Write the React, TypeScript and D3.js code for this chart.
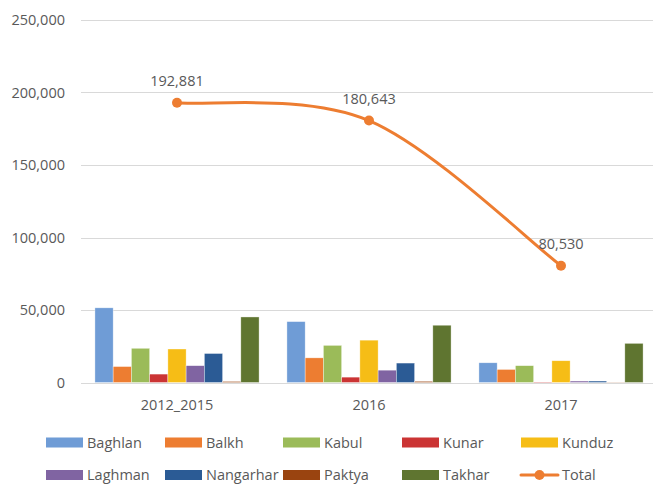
import React from "react";
import * as d3 from "d3";

const categories = ["2012_2015", "2016", "2017"];
const provinces = ["Baghlan", "Balkh", "Kabul", "Kunar", "Kunduz", "Laghman", "Nangarhar", "Paktya", "Takhar"];
const colors = ["#6F9CD6", "#ED7D31", "#9BBB59", "#CB3434", "#F6BD16", "#8064A2", "#2B5B95", "#9A4410", "#5F7530"];
const baghlan = [51500, 42000, 13600];
const balkh = [11000, 17000, 9000];
const kabul = [23600, 25600, 11600];
const kunar = [5800, 3700, 300];
const kunduz = [23100, 29200, 15000];
const laghman = [11600, 8500, 1000];
const nangarhar = [20000, 13400, 1000];
const paktya = [700, 800, 150];
const takhar = [45200, 39500, 27000];
const totals = [192881, 180643, 80530];
const yTicks = [0, 50000, 100000, 150000, 200000, 250000];
const seriesValues = [baghlan, balkh, kabul, kunar, kunduz, laghman, nangarhar, paktya, takhar];

const W = 653, H = 485;
const FONT = "'Open Sans', sans-serif";
const TXT = "#595959";
const fmt = d3.format(",");

// Excel-like smoothed line: Catmull-Rom tangents, endpoints duplicated
function smoothPath(pts: [number, number][]) {
  const p = d3.path();
  const n = pts.length;
  const get = (i: number) => pts[Math.max(0, Math.min(n - 1, i))];
  p.moveTo(pts[0][0], pts[0][1]);
  for (let i = 0; i < n - 1; i++) {
    const a = get(i - 1), b = get(i), c = get(i + 1), d = get(i + 2);
    p.bezierCurveTo(
      b[0] + (c[0] - a[0]) / 6, b[1] + (c[1] - a[1]) / 6,
      c[0] - (d[0] - b[0]) / 6, c[1] - (d[1] - b[1]) / 6,
      c[0], c[1]
    );
  }
  return p.toString();
}

export default function App() {
  const x = d3.scaleBand().domain(categories).range([81, 657]).paddingInner(0.145).paddingOuter(0.0725);
  const xc = d3.scalePoint().domain(categories).range([81, 657]).padding(0.5);
  const y = d3.scaleLinear().domain([0, 250000]).range([382.5, 20]);
  const x1 = d3.scaleBand().domain(provinces).range([0, x.bandwidth()]);
  const pts: [number, number][] = totals.map((v, i) => [xc(categories[i]) as number, y(v)]);

  const legendItems = [...provinces, "Total"];
  const legendX = [46, 165, 283, 402, 521];

  return (
    <svg width={W} height={H} style={{ position: "absolute", left: 0, top: 0, background: "#fff" }}>
      {yTicks.map((t) => (
        <g key={t}>
          <line x1={81} x2={W} y1={Math.round(y(t)) + 0.5} y2={Math.round(y(t)) + 0.5} stroke="#D9D9D9" strokeWidth={1} />
          <text x={65} y={y(t) + 5} textAnchor="end" fontFamily={FONT} fontSize={14.5} fill={TXT}>{fmt(t)}</text>
        </g>
      ))}
      {categories.map((c, ci) => (
        <g key={c} transform={`translate(${x(c)},0)`}>
          {provinces.map((p, pi) => {
            const v = seriesValues[pi][ci];
            return (
              <rect key={p} x={x1(p)} y={y(v)} width={x1.bandwidth()} height={y(0) - y(v)}
                fill={colors[pi]} stroke="#fff" strokeOpacity={0.6} strokeWidth={0.6} />
            );
          })}
        </g>
      ))}
      {categories.map((c) => (
        <text key={c} x={xc(c)} y={410} textAnchor="middle" fontFamily={FONT} fontSize={14.5} fill={TXT}>{c}</text>
      ))}
      <path d={smoothPath(pts)} fill="none" stroke="#ED7D31" strokeWidth={3} strokeLinecap="round" />
      {totals.map((v, i) => (
        <g key={i}>
          <circle cx={xc(categories[i])} cy={y(v)} r={5} fill="#ED7D31" />
          <text x={xc(categories[i])} y={y(v) - 17} textAnchor="middle" fontFamily={FONT} fontSize={14.5} fill={TXT}>{fmt(v)}</text>
        </g>
      ))}
      {legendItems.map((name, i) => {
        const row = Math.floor(i / 5);
        const lx = legendX[i % 5];
        const ly = row === 0 ? 442.5 : 475;
        return (
          <g key={name}>
            {name === "Total" ? (
              <g>
                <line x1={lx} x2={lx + 37} y1={ly} y2={ly} stroke="#ED7D31" strokeWidth={3} strokeLinecap="round" />
                <circle cx={lx + 18.5} cy={ly} r={5} fill="#ED7D31" />
              </g>
            ) : (
              <rect x={lx} y={ly - 5} width={37} height={10} fill={colors[i]} />
            )}
            <text x={lx + 41} y={ly + 5} fontFamily={FONT} fontSize={14.5} fill={TXT}>{name}</text>
          </g>
        );
      })}
    </svg>
  );
}
